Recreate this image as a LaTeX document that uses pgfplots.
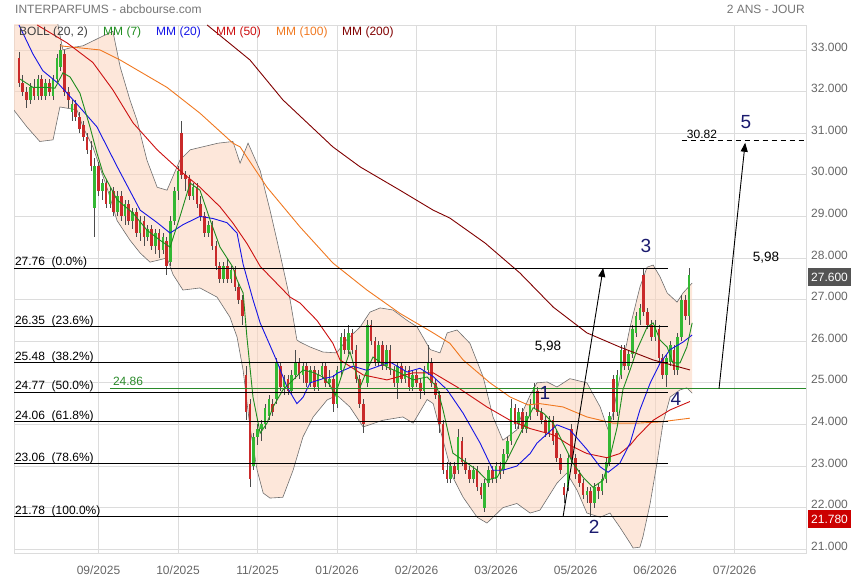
\documentclass[border=0pt]{standalone}
\usepackage{pgfplots}
\pgfplotsset{compat=1.18}
\usepackage{pgfplotstable}
\usepgfplotslibrary{fillbetween}
\usetikzlibrary{arrows.meta}
\usepackage{fontspec}
\setmainfont{Liberation Sans}
\definecolor{bandfill}{HTML}{FBD3BC}
\definecolor{bandline}{HTML}{6E6E6E}
\definecolor{mmseven}{HTML}{1E8C1E}
\definecolor{mmtwenty}{HTML}{1414E6}
\definecolor{mmfifty}{HTML}{CC1010}
\definecolor{mmhundred}{HTML}{F07820}
\definecolor{mmtwohundred}{HTML}{800000}
\definecolor{cup}{HTML}{33B833}
\definecolor{cdn}{HTML}{C92A2A}
\definecolor{wave}{HTML}{1A1A6E}
\definecolor{gridc}{HTML}{DCDCDC}
\definecolor{txtgray}{HTML}{666666}
\definecolor{fibgreen}{HTML}{2A8A2A}

\pgfplotstableread{
k o h l c
0 32.8 32.95 32.1 32.2
1 32.2 32.4 31.9 32.0
2 32.0 32.1 31.6 31.8
3 31.8 32.2 31.7 32.1
4 32.1 32.3 31.8 31.9
5 31.9 32.4 31.8 32.3
6 32.3 32.4 31.8 31.9
7 31.9 32.3 31.8 32.2
8 32.2 32.3 31.9 32.0
9 31.9 32.4 31.8 32.3
10 32.3 32.9 32.2 32.8
11 32.6 33.15 32.5 33.0
12 32.9 33.0 31.9 32.0
13 32.0 32.1 31.6 31.8
14 31.5 31.8 31.3 31.7
15 31.7 31.8 31.3 31.4
16 31.4 31.5 31.0 31.1
17 31.2 31.3 30.8 30.9
18 30.9 31.0 30.5 30.6
19 30.6 30.8 30.1 30.2
20 29.2 30.4 28.5 30.2
21 30.2 30.3 29.5 29.6
22 29.6 29.9 29.4 29.8
23 29.8 29.9 29.2 29.3
24 29.3 29.7 29.2 29.6
25 29.6 29.7 29.0 29.1
26 29.1 29.6 29.0 29.5
27 29.5 29.6 28.9 29.0
28 29.0 29.4 28.8 29.3
29 29.3 29.4 28.8 28.9
30 28.9 29.2 28.7 29.1
31 29.1 29.2 28.5 28.6
32 28.6 29.0 28.4 28.9
33 28.9 29.0 28.3 28.5
34 28.5 28.8 28.4 28.7
35 28.7 28.8 28.2 28.3
36 28.3 28.7 28.1 28.6
37 28.6 28.7 28.0 28.2
38 28.2 28.6 28.1 28.5
39 28.4 28.5 27.6 27.8
40 27.9 29.0 27.8 28.9
41 28.9 29.7 28.8 29.6
42 29.6 30.2 29.4 30.1
43 31.0 31.3 29.9 30.0
44 30.0 30.1 29.6 29.9
45 29.9 30.0 29.4 29.5
46 29.5 29.8 29.4 29.7
47 29.7 29.8 29.2 29.3
48 29.3 29.5 28.9 29.0
49 29.0 29.1 28.5 28.6
50 28.6 28.9 28.5 28.8
51 28.8 28.9 28.2 28.3
52 28.3 28.4 27.7 27.8
53 27.8 27.9 27.4 27.5
54 27.5 27.9 27.4 27.8
55 27.8 28.0 27.4 27.5
56 27.5 27.8 27.4 27.7
57 27.7 27.8 27.2 27.3
58 27.3 27.4 26.9 27.0
59 27.0 27.1 26.4 26.6
60 25.2 25.4 24.1 24.3
61 24.5 24.6 22.5 22.7
62 23.0 23.8 22.9 23.7
63 23.7 24.0 23.5 23.9
64 23.9 24.1 23.6 24.0
65 24.0 24.5 23.9 24.4
66 24.2 24.7 24.1 24.6
67 24.5 24.6 24.2 24.3
68 24.6 25.6 24.5 25.5
69 25.4 25.5 24.8 24.9
70 24.9 25.2 24.7 25.1
71 25.1 25.2 24.7 24.8
72 24.8 25.3 24.7 25.2
73 25.2 25.8 25.1 25.5
74 25.5 25.6 25.1 25.2
75 25.2 25.5 25.0 25.4
76 25.4 25.5 24.9 25.0
77 25.0 25.4 24.9 25.3
78 25.3 25.4 24.8 24.9
79 24.9 25.3 24.8 25.2
80 25.2 25.5 25.1 25.4
81 25.4 25.5 24.9 25.0
82 25.0 25.3 24.9 25.1
83 25.1 25.2 24.3 24.5
84 24.5 25.4 24.4 25.3
85 25.3 26.2 25.2 26.1
86 26.1 26.3 25.7 25.8
87 25.8 26.4 25.7 26.2
88 26.2 26.3 25.7 25.8
89 25.8 25.9 25.0 25.1
90 25.1 25.2 24.4 24.5
91 24.5 24.6 23.8 24.0
92 25.0 26.5 24.9 26.4
93 26.4 26.5 25.9 26.0
94 26.0 26.1 25.4 25.5
95 25.5 26.0 25.4 25.9
96 25.9 26.0 25.3 25.4
97 25.4 25.9 25.3 25.8
98 25.8 25.9 25.2 25.3
99 25.3 25.4 24.9 25.0
100 25.0 25.5 24.6 25.4
101 25.4 25.5 25.0 25.1
102 25.1 25.4 25.0 25.3
103 25.3 25.4 24.8 24.9
104 24.9 25.3 24.8 25.2
105 25.2 25.3 24.9 25.0
106 25.0 25.1 24.6 24.8
107 24.8 25.4 24.7 25.3
108 25.3 25.9 25.2 25.5
109 25.5 25.6 24.9 25.0
110 25.0 25.1 24.6 24.7
111 24.7 24.8 23.8 24.0
112 24.0 24.1 22.8 22.9
113 22.9 23.1 22.6 22.7
114 22.7 23.1 22.6 23.0
115 23.0 23.1 22.7 22.8
116 22.9 23.9 22.8 23.7
117 23.6 23.7 23.0 23.1
118 23.1 23.2 22.8 22.9
119 22.9 23.0 22.6 22.7
120 22.7 23.0 22.6 22.9
121 22.9 23.0 22.4 22.5
122 22.5 22.6 22.2 22.3
123 22.0 22.7 21.9 22.6
124 22.6 23.0 22.5 22.9
125 22.9 23.0 22.6 22.7
126 22.7 23.1 22.6 23.0
127 23.0 23.1 22.7 22.8
128 22.9 23.4 22.8 23.3
129 23.3 23.7 23.2 23.6
130 23.6 24.6 23.5 24.4
131 24.4 24.5 23.9 24.0
132 24.0 24.4 23.9 24.3
133 24.3 24.4 23.8 23.9
134 23.9 24.3 23.8 24.2
135 24.2 24.6 24.1 24.5
136 24.5 25.0 24.4 24.9
137 24.8 24.9 24.2 24.3
138 24.3 24.4 24.0 24.1
139 24.1 24.2 23.7 23.8
140 23.8 24.2 23.7 24.1
141 24.1 24.2 23.5 23.6
142 23.8 23.9 23.1 23.2
143 23.2 23.3 22.8 22.9
144 22.5 22.6 22.1 22.3
145 22.5 23.3 22.4 23.2
146 23.9 24.0 23.1 23.2
147 23.2 23.3 22.7 22.8
148 22.8 22.9 22.5 22.6
149 22.6 22.7 22.2 22.3
150 22.3 22.5 22.1 22.4
151 22.4 22.5 21.78 22.1
152 22.1 22.6 22.0 22.5
153 22.5 22.6 22.2 22.4
154 22.4 22.8 22.3 22.7
155 22.7 23.2 22.6 23.1
156 23.1 24.3 23.0 24.2
157 25.1 25.2 24.1 24.3
158 24.3 25.3 24.2 25.2
159 25.2 25.9 25.1 25.8
160 25.8 25.9 25.3 25.4
161 25.4 25.8 25.3 25.7
162 25.7 26.4 25.6 26.3
163 26.2 26.7 26.1 26.6
164 26.5 26.9 26.4 26.8
165 27.6 27.76 26.6 26.7
166 26.7 26.8 26.3 26.4
167 26.4 26.5 26.0 26.1
168 26.1 26.5 26.0 26.4
169 26.3 26.4 25.5 25.6
170 25.6 25.7 25.1 25.2
171 25.2 25.7 24.9 25.6
172 25.5 26.0 25.4 25.9
173 25.8 25.9 25.2 25.3
174 25.3 26.2 25.2 26.1
175 26.1 27.1 26.0 27.0
176 27.0 27.1 26.5 26.6
177 26.6 27.76 26.4 27.6
}\candles

\pgfplotstableread{
k v
-1.4 34.0
9.5 34.0
10.5 33.5
11.6 33.0
13.5 33.05
16.9 33.1
21.4 33.3
24.8 33.45
26.7 32.6
29.3 31.8
31.2 31.3
33.8 30.35
36.5 29.7
39.1 29.63
42.5 30.35
45.2 30.6
52.6 30.76
56.5 30.8
58.4 30.28
60.5 30.76
63.7 30.1
66.3 29.15
68.9 28.12
71.6 27.0
73.4 26.03
74.2 25.98
76.9 25.86
80.3 25.74
83.9 25.72
86.5 26.03
90.1 26.34
92.7 26.7
95.4 26.8
98.8 26.75
102.5 26.5
105.1 26.35
108.6 25.8
111.2 25.72
113.1 26.2
115.7 26.27
119.1 25.95
122.6 25.14
125.2 24.18
127.8 23.62
131.5 23.87
133.0 24.3
135.0 24.7
136.8 25.0
139.5 25.02
142.1 24.9
145.5 25.1
150.0 25.0
153.5 24.42
155.6 23.87
156.9 24.27
158.7 25.14
161.4 26.34
164.0 27.3
165.9 27.78
167.5 27.83
169.3 27.55
171.2 27.16
173.8 26.94
175.4 27.16
177.8 27.4
}\bandup

\pgfplotstableread{
k v
-1.4 31.56
2.1 31.15
5.5 30.8
9.0 30.84
10.8 31.63
15.3 31.56
16.9 31.15
19.5 30.67
23.2 29.7
25.9 28.9
29.3 28.43
32.0 28.12
34.6 27.9
39.1 28.0
40.7 27.6
43.3 27.23
47.8 27.28
52.3 27.06
55.7 26.58
57.6 26.1
59.2 25.3
61.0 23.94
62.9 22.9
64.5 22.35
66.3 22.23
69.7 22.25
72.4 22.9
75.0 23.7
77.7 24.18
81.4 24.59
84.0 24.7
87.4 24.42
90.9 23.94
96.1 24.1
101.4 24.18
104.1 24.03
107.8 24.6
109.4 24.5
112.0 23.62
114.6 22.73
117.3 22.25
121.0 21.77
123.6 21.63
125.2 21.77
127.8 22.0
131.5 22.1
135.0 21.87
137.6 21.94
142.1 22.59
144.7 22.83
147.4 22.42
150.0 21.87
153.5 21.77
156.1 21.87
158.7 21.53
161.4 21.15
162.2 21.03
164.0 21.05
164.8 21.3
166.7 22.1
168.5 23.07
170.1 24.03
172.0 24.66
174.6 24.83
176.4 24.88
177.8 24.75
}\bandlo

\begin{document}
\begin{tikzpicture}
\begin{axis}[
  set layers,
  scale only axis, width=792bp, height=528bp,
  xmin=-1.32, xmax=207.87, ymin=20.91, ymax=33.60,
  axis line style={draw=gridc},
  major tick length=0pt,
  xtick={21,42,63,84,105,126,147,168,189},
  xticklabels={09/2025,10/2025,11/2025,01/2026,02/2026,03/2026,05/2026,06/2026,07/2026},
  ytick={21,22,...,33},
  yticklabel pos=right,
  grid=major,
  grid style={draw=gridc, line width=0.7bp},
  tick label style={font=\fontsize{12bp}{14bp}\selectfont, text=txtgray, inner sep=0pt},
  y tick label style={anchor=west, xshift=5bp, yshift=3bp, /pgf/number format/.cd, fixed, fixed zerofill, precision=3, assume math mode=true},
  x tick label style={anchor=north, yshift=-12.5bp},
]
% Bollinger band
\addplot[name path=bu, draw=bandline, line width=0.6bp] table[x=k,y=v] {\bandup};
\addplot[name path=bl, draw=bandline, line width=0.6bp] table[x=k,y=v] {\bandlo};
\addplot[fill=bandfill, fill opacity=0.55, draw=none] fill between[of=bu and bl];

% candle wicks
\addplot[draw=none, mark=none, error bars/.cd, y dir=both, y explicit, error mark=none,
  error bar style={draw=black!70, line width=0.6bp}]
  table[x=k, y expr={(\thisrow{h}+\thisrow{l})/2}, y error expr={(\thisrow{h}-\thisrow{l})/2}] {\candles};
% up bodies
\addplot[draw=none, mark=none, restrict expr to domain={\thisrow{c}-\thisrow{o}}{0:100},
  error bars/.cd, y dir=both, y explicit, error mark=none,
  error bar style={draw=cup, line width=2.6bp}]
  table[x=k, y expr={(\thisrow{o}+\thisrow{c})/2}, y error expr={abs(\thisrow{c}-\thisrow{o})/2}] {\candles};
% down bodies
\addplot[draw=none, mark=none, restrict expr to domain={\thisrow{c}-\thisrow{o}}{-100:-0.0001},
  error bars/.cd, y dir=both, y explicit, error mark=none,
  error bar style={draw=cdn, line width=2.6bp}]
  table[x=k, y expr={(\thisrow{o}+\thisrow{c})/2}, y error expr={abs(\thisrow{c}-\thisrow{o})/2}] {\candles};

% MM 200
\addplot[mmtwohundred, line width=0.9bp] coordinates {
(49.7,33.6) (61.0,32.76) (69.7,31.8) (82.9,30.67) (90.1,30.19) (100.6,29.63) (109.4,29.15) (113.8,28.96) (123.1,28.36) (132.3,27.64) (141.1,26.82) (150.0,26.2) (158.7,25.86) (167.5,25.55) (177.2,25.31)};
% MM 100
\addplot[mmhundred, line width=0.9bp] coordinates {
(10.8,33.1) (21.4,33.0) (26.7,32.76) (39.1,32.1) (47.8,31.48) (56.5,30.76) (58.4,30.67) (65.5,29.7) (74.2,28.75) (82.9,27.88) (91.9,27.23) (100.6,26.67) (109.4,26.2) (113.8,25.95) (117.3,25.55) (124.4,25.0) (129.7,24.66) (134.4,24.47) (137.6,24.5) (143.7,24.42) (150.0,24.18) (156.9,24.03) (163.2,24.03) (169.3,24.06) (177.2,24.15)};
% MM 50
\addplot[mmfifty, line width=0.9bp] coordinates {
(4.8,33.6) (12.7,33.17) (19.5,32.7) (24.8,32.04) (30.1,31.25) (36.5,30.6) (42.5,30.1) (47.8,29.7) (53.1,29.23) (56.5,28.84) (60.2,28.35) (63.7,27.8) (71.6,27.06) (74.2,26.92) (78.7,26.5) (82.9,25.95) (84.8,25.55) (90.9,25.19) (97.2,25.07) (104.1,25.24) (109.4,25.24) (115.7,24.9) (123.6,24.42) (129.7,24.1) (135.0,23.9) (141.1,23.75) (145.5,23.5) (150.0,23.3) (155.3,23.2) (158.7,23.3) (161.4,23.5) (163.2,23.7) (167.5,24.1) (172.0,24.35) (177.2,24.55)};
% MM 20
\addplot[mmtwenty, line width=0.9bp] coordinates {
(0,33.6) (3.7,32.9) (6.3,32.5) (10.3,32.2) (15.3,31.7) (20.6,31.15) (25.9,30.2) (32.0,29.15) (36.5,28.85) (39.9,28.6) (43.3,28.8) (47.8,29.0) (51.2,28.95) (54.9,28.85) (57.6,28.6) (59.2,27.85) (61.8,27.0) (63.7,26.44) (66.3,25.9) (68.2,25.5) (70.8,24.9) (73.4,24.5) (75.0,24.65) (76.9,25.0) (80.3,25.1) (83.0,25.15) (84.0,25.23) (88.2,25.4) (91.9,25.3) (98.0,25.5) (102.5,25.26) (105.9,25.35) (109.4,25.15) (113.1,24.83) (117.3,24.27) (121.8,23.55) (125.2,22.9) (127.8,22.9) (131.5,23.0) (135.0,23.3) (136.8,23.55) (142.1,23.99) (145.5,23.87) (150.0,23.4) (153.5,22.98) (155.6,22.85) (158.7,23.07) (161.4,23.55) (164.0,24.35) (166.7,24.99) (169.3,25.47) (172.0,25.8) (175.4,25.98) (177.8,26.15)};
% MM 7
\addplot[mmseven, line width=0.9bp] coordinates {
(0.3,32.3) (3.7,32.1) (7.4,32.1) (9.5,32.08) (11.6,32.45) (13.5,32.35) (16.1,31.96) (18.75,31.15) (20.6,30.52) (22.2,30.04) (25.9,29.4) (30.1,29.08) (33.8,28.67) (37.2,28.43) (39.9,28.26) (42.5,28.99) (45.2,29.8) (47.8,29.63) (50.5,28.91) (53.1,28.26) (56.5,27.78) (57.6,27.47) (59.2,27.16) (60.2,26.1) (61.8,24.66) (63.7,23.79) (65.5,24.03) (67.1,24.42) (69.7,24.83) (72.4,25.07) (75.0,25.31) (77.7,25.25) (80.3,25.14) (82.1,24.95) (83.5,24.7) (85.3,25.2) (87.4,25.75) (90.1,24.9) (91.9,25.3) (93.5,25.62) (97.2,25.38) (100.6,25.24) (104.1,25.07) (107.8,25.14) (110.4,24.9) (112.0,24.35) (114.6,23.31) (117.3,23.14) (121.0,22.9) (123.6,22.66) (126.3,22.73) (128.9,23.14) (131.5,23.62) (134.2,24.1) (135.8,24.4) (138.5,24.27) (141.1,24.03) (143.7,23.55) (146.3,23.07) (149.0,22.73) (151.6,22.49) (154.3,22.66) (156.1,23.22) (158.0,23.94) (159.5,24.83) (161.4,25.31) (163.2,25.79) (165.9,26.34) (167.5,26.44) (169.3,26.03) (171.2,25.86) (172.7,25.48) (174.6,25.48) (176.4,25.86) (177.8,26.44)};

% Fibonacci levels
\addplot[black, line width=0.9bp] coordinates {(-1.32,27.76) (171.4,27.76)};
\addplot[black, line width=0.9bp] coordinates {(-1.32,26.35) (171.4,26.35)};
\addplot[black, line width=0.9bp] coordinates {(-1.32,25.48) (171.4,25.48)};
\addplot[black, line width=0.9bp] coordinates {(-1.32,24.77) (171.4,24.77)};
\addplot[black, line width=0.9bp] coordinates {(-1.32,24.06) (171.4,24.06)};
\addplot[black, line width=0.9bp] coordinates {(-1.32,23.06) (171.4,23.06)};
\addplot[black, line width=0.9bp] coordinates {(-1.32,21.78) (171.4,21.78)};
% support 24.86 and target 30.82
\addplot[fibgreen, line width=0.9bp] coordinates {(24.0,24.86) (207.87,24.86)};
\addplot[black, line width=0.9bp, dash pattern=on 5bp off 4bp] coordinates {(175.0,30.82) (207.87,30.82)};

\begin{scope}[every node/.style={font=\fontsize{12bp}{14bp}\selectfont, inner sep=0pt}]
\node[anchor=base west] at (axis cs:-1.1,27.76) [yshift=2.5bp] {27.76\ \ (0.0\%)};
\node[anchor=base west] at (axis cs:-1.1,26.35) [yshift=2.5bp] {26.35\ \ (23.6\%)};
\node[anchor=base west] at (axis cs:-1.1,25.48) [yshift=2.5bp] {25.48\ \ (38.2\%)};
\node[anchor=base west] at (axis cs:-1.1,24.77) [yshift=2.5bp] {24.77\ \ (50.0\%)};
\node[anchor=base west] at (axis cs:-1.1,24.06) [yshift=2.5bp] {24.06\ \ (61.8\%)};
\node[anchor=base west] at (axis cs:-1.1,23.06) [yshift=2.5bp] {23.06\ \ (78.6\%)};
\node[anchor=base west] at (axis cs:-1.1,21.78) [yshift=2.5bp] {21.78\ \ (100.0\%)};
\node[text=fibgreen] at (axis cs:28.8,25.04) {24.86};
\node at (axis cs:180.4,30.98) {30.82};
\end{scope}

\draw[black, line width=0.9bp, -{Triangle[length=9bp,width=7bp]}] (axis cs:143.7,21.78) -- (axis cs:154.3,27.76);
\draw[black, line width=0.9bp, -{Triangle[length=9bp,width=7bp]}] (axis cs:184.9,24.86) -- (axis cs:191.8,30.77);

\node[font=\fontsize{13.5bp}{15bp}\selectfont] at (axis cs:139.7,25.86) {5,98};
\node[font=\fontsize{13.5bp}{15bp}\selectfont] at (axis cs:197.3,28.0) {5,98};

\begin{scope}[every node/.style={font=\fontsize{19bp}{21bp}\selectfont, text=wave, inner sep=0pt}]
\node at (axis cs:138.9,24.76) {1};
\node at (axis cs:151.9,21.53) {2};
\node at (axis cs:165.6,28.29) {3};
\node at (axis cs:173.5,24.61) {4};
\node at (axis cs:192.0,31.27) {5};
\end{scope}
\end{axis}

\begin{scope}[every node/.style={font=\fontsize{12bp}{14bp}\selectfont, inner sep=0pt}]
\node[anchor=west, text=txtgray!90] at (1bp,544bp) {INTERPARFUMS - abcbourse.com};
\node[anchor=east, text=txtgray!90] at (791bp,544bp) {2 ANS - JOUR};
\node[anchor=west, text=black!75] at (5bp,520.5bp) {BOLL (20, 2)};
\node[anchor=west, text=mmseven] at (89bp,520.5bp) {MM (7)};
\node[anchor=west, text=mmtwenty] at (142bp,520.5bp) {MM (20)};
\node[anchor=west, text=mmfifty] at (202bp,520.5bp) {MM (50)};
\node[anchor=west, text=mmhundred] at (262bp,520.5bp) {MM (100)};
\node[anchor=west, text=mmtwohundred] at (328bp,520.5bp) {MM (200)};
\node[fill=black!67, text=white, minimum width=43bp, minimum height=18bp] at (815.5bp,276bp) {27.600};
\node[fill=red!80!black, text=white, minimum width=43bp, minimum height=18bp] at (815.5bp,34bp) {21.780};
\end{scope}
\pgfresetboundingbox
\path (-14bp,-27bp) rectangle (841bp,553bp);
\end{tikzpicture}
\end{document}
